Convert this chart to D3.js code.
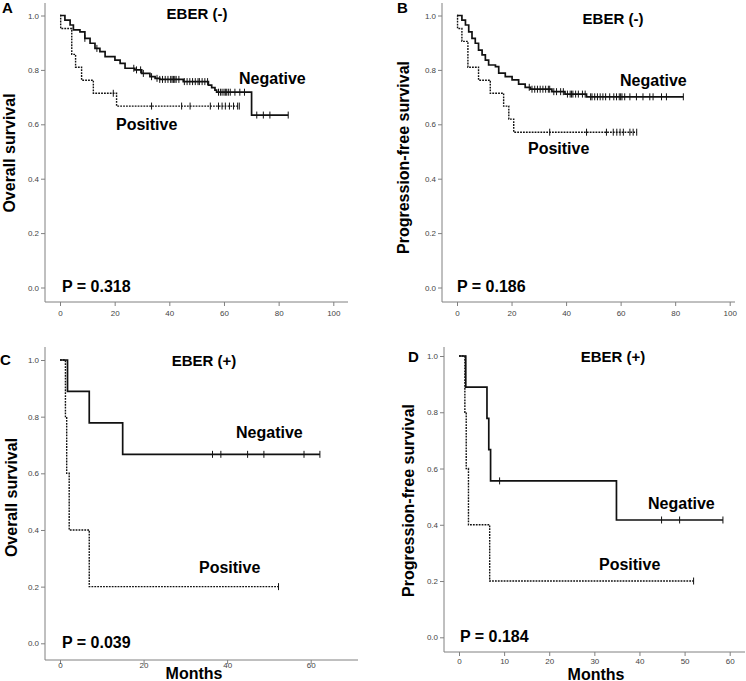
<!DOCTYPE html>
<html>
<head>
<meta charset="utf-8">
<script src="https://cdn.jsdelivr.net/npm/d3@7"></script>
<style>
  body { margin: 0; background: #fff; }
  text { font-family: "Liberation Sans", Arial, sans-serif; }
</style>
</head>
<body>
<script>
// ---- data (months, survival proportion) ----
// A: overall survival, EBER (-)
const osNegTimeA = [1.8, 3.7, 4.9, 7.3, 9.1, 11.0, 12.8, 14.6, 16.5, 20.1, 22.0, 23.8, 27.4, 29.9, 32.9, 34.8, 36.5, 45.1, 54.3, 55.5, 56.7, 57.3, 70.1];
const osNegSurvA = [0.983, 0.965, 0.947, 0.94, 0.916, 0.898, 0.879, 0.867, 0.849, 0.836, 0.824, 0.806, 0.80, 0.787, 0.775, 0.769, 0.765, 0.757, 0.744, 0.735, 0.726, 0.718, 0.634];
const osNegCensA = [9.1, 13.5, 27.0, 28.0, 29.5, 30.5, 33.5, 35.5, 36.5, 37.5, 38.5, 39.5, 40.5, 41.0, 41.5, 42.0, 42.5, 43.5, 45.5, 46.5, 47.5, 48.5, 49.5, 50.5, 51.0, 52.0, 53.0, 54.0, 58.0, 58.7, 59.3, 60.0, 60.5, 61.0, 61.6, 62.3, 64.0, 65.8, 67.5, 72.0, 74.4, 76.8, 83.5];
const osPosTimeA = [0.25, 4.3, 5.7, 7.9, 12.2, 20.7];
const osPosSurvA = [0.952, 0.857, 0.810, 0.762, 0.714, 0.667];
const osPosCensA = [19.5, 33.5, 44.5, 47.6, 55.0, 58.0, 59.3, 60.5, 62.0, 63.5, 65.0, 65.6];

// B: progression-free survival, EBER (-)
const pfsNegTimeB = [1.8, 3.1, 4.3, 5.5, 6.7, 7.9, 9.2, 10.4, 11.6, 14.1, 15.3, 17.7, 20.2, 22.6, 25.0, 26.9, 34.8, 39.6, 47.5];
const pfsNegSurvB = [0.983, 0.965, 0.940, 0.916, 0.898, 0.873, 0.855, 0.836, 0.818, 0.812, 0.788, 0.775, 0.763, 0.748, 0.736, 0.729, 0.720, 0.711, 0.701];
const pfsNegCensB = [26.5, 27.5, 28.5, 29.5, 30.5, 31.5, 32.5, 33.5, 34.0, 35.5, 36.5, 38.0, 39.0, 40.5, 41.5, 42.0, 42.5, 43.5, 44.5, 46.0, 47.0, 49.0, 49.5, 50.5, 51.5, 52.5, 53.5, 54.5, 56.0, 57.5, 58.5, 59.5, 60.0, 60.5, 61.5, 63.4, 65.8, 68.2, 70.7, 71.9, 75.0, 76.8, 83.0];
const pfsPosTimeB = [0.2, 1.8, 4.0, 7.9, 12.2, 17.1, 19.0, 20.8];
const pfsPosSurvB = [0.952, 0.905, 0.810, 0.762, 0.714, 0.667, 0.619, 0.571];
const pfsPosCensB = [34.0, 47.5, 54.8, 57.3, 58.6, 59.8, 61.0, 63.4, 64.6, 65.9];

// C: overall survival, EBER (+)
const osNegTimeC = [1.8, 7.0, 15.0];
const osNegSurvC = [0.889, 0.778, 0.667];
const osNegCensC = [36.5, 38.5, 44.9, 48.8, 58.4, 62.2];
const osPosTimeC = [1.3, 1.6, 2.2, 7.0];
const osPosSurvC = [0.8, 0.6, 0.4, 0.2];
const osPosCensC = [52.3];

// D: progression-free survival, EBER (+)
const pfsNegTimeD = [1.5, 6.2, 6.6, 7.0, 34.9];
const pfsNegSurvD = [0.889, 0.778, 0.667, 0.556, 0.417];
const pfsNegCensD = [9.0, 44.9, 48.9, 58.5];
const pfsPosTimeD = [1.3, 1.6, 2.1, 6.8];
const pfsPosSurvD = [0.8, 0.6, 0.4, 0.2];
const pfsPosCensD = [52.0];

const yTicks = [0, 0.2, 0.4, 0.6, 0.8, 1.0];
const xTicks100 = [0, 20, 40, 60, 80, 100];
const xTicks60by20 = [0, 20, 40, 60];
const xTicks60by10 = [0, 10, 20, 30, 40, 50, 60];

// ---- layout ----
const panels = [
  { letter: "A", title: "EBER (-)", ylab: "Overall survival", p: "P = 0.318",
    neg: [osNegTimeA, osNegSurvA, osNegCensA], pos: [osPosTimeA, osPosSurvA, osPosCensA],
    xTicks: xTicks100, xMax: 100,
    axX: 45, axEnd: 348, axTop: 3, axY: 302, x0: 60, xM: 333.3, y0: 287.5, y1: 15.5, tickDy: 14,
    letterPos: [2, 13], titlePos: [197, 18.5], ylabPos: [15, 153], pPos: [62, 292],
    negPos: [239, 83.5], posPos: [116, 130], months: null },
  { letter: "B", title: "EBER (-)", ylab: "Progression-free survival", p: "P = 0.186",
    neg: [pfsNegTimeB, pfsNegSurvB, pfsNegCensB], pos: [pfsPosTimeB, pfsPosSurvB, pfsPosCensB],
    xTicks: xTicks100, xMax: 100,
    axX: 442, axEnd: 735, axTop: 3, axY: 302, x0: 457, xM: 729.7, y0: 287.5, y1: 15.5, tickDy: 14,
    letterPos: [397, 13], titlePos: [613, 23.5], ylabPos: [408.5, 157.5], pPos: [457, 292],
    negPos: [620, 86], posPos: [528, 154], months: null },
  { letter: "C", title: "EBER (+)", ylab: "Overall survival", p: "P = 0.039",
    neg: [osNegTimeC, osNegSurvC, osNegCensC], pos: [osPosTimeC, osPosSurvC, osPosCensC],
    xTicks: xTicks60by20, xMax: 60,
    axX: 45, axEnd: 358, axTop: 347, axY: 660, x0: 60, xM: 310.7, y0: 643.3, y1: 360, tickDy: 8,
    letterPos: [0, 365], titlePos: [204, 366], ylabPos: [17, 497.5], pPos: [62, 648],
    negPos: [236, 438], posPos: [199, 573], months: [194, 679] },
  { letter: "D", title: "EBER (+)", ylab: "Progression-free survival", p: "P = 0.184",
    neg: [pfsNegTimeD, pfsNegSurvD, pfsNegCensD], pos: [pfsPosTimeD, pfsPosSurvD, pfsPosCensD],
    xTicks: xTicks60by10, xMax: 60,
    axX: 444, axEnd: 745, axTop: 347, axY: 652, x0: 459, xM: 729.7, y0: 637.3, y1: 356, tickDy: 12,
    letterPos: [408, 362], titlePos: [613, 362], ylabPos: [414, 500.5], pPos: [460, 641.5],
    negPos: [648, 508.5], posPos: [599, 570], months: [596, 679.5] }
];

const svg = d3.select("body").append("svg")
  .attr("width", 746)
  .attr("height", 681);

const axisColor = "#808080";
const tickFont = '"Liberation Sans Narrow", "Liberation Sans", Arial, sans-serif';

panels.forEach(drawPanel);

function survAt(times, surv, t) {
  const i = d3.bisectRight(times, t);
  return i === 0 ? 1 : surv[i - 1];
}

function drawPanel(d) {
  const g = svg.append("g");
  const x = d3.scaleLinear().domain([0, d.xMax]).range([d.x0, d.xM]);
  const y = d3.scaleLinear().domain([0, 1]).range([d.y0, d.y1]);

  // axis lines run past the tick range, as in the original
  g.append("line").attr("x1", d.axX).attr("x2", d.axX).attr("y1", d.axTop).attr("y2", d.axY)
    .attr("stroke", axisColor).attr("stroke-width", 1);
  g.append("line").attr("x1", d.axX).attr("x2", d.axEnd).attr("y1", d.axY).attr("y2", d.axY)
    .attr("stroke", axisColor).attr("stroke-width", 1);

  const xa = g.append("g").attr("transform", `translate(0,${d.axY})`)
    .call(d3.axisBottom(x).tickValues(d.xTicks).tickSize(4).tickSizeOuter(0).tickFormat(d3.format("d")));
  const ya = g.append("g").attr("transform", `translate(${d.axX},0)`)
    .call(d3.axisLeft(y).tickValues(yTicks).tickSize(4).tickSizeOuter(0).tickFormat(d3.format(".1f")));
  [xa, ya].forEach(a => {
    a.select(".domain").remove();
    a.selectAll("line").attr("stroke", axisColor);
    a.selectAll("text").attr("fill", "#444")
      .style("font-family", tickFont).style("font-size", "8px");
  });
  xa.selectAll("text").attr("y", d.tickDy).attr("dy", null);
  ya.selectAll("text").attr("x", -6);

  const line = d3.line().curve(d3.curveStepAfter).x(p => x(p[0])).y(p => y(p[1]));

  function drawCurve(series, dashed) {
    const [times, surv, cens] = series;
    const pts = [[0, 1]];
    times.forEach((t, i) => pts.push([t, surv[i]]));
    const end = Math.max(d3.max(times), d3.max(cens));
    pts.push([end, surv[surv.length - 1]]);
    g.append("path").datum(pts)
      .attr("d", line)
      .attr("fill", "none")
      .attr("stroke", "#111")
      .attr("stroke-width", dashed ? 1.4 : 1.7)
      .attr("stroke-dasharray", dashed ? "1.8,1.1" : null);
    g.selectAll(null).data(cens).join("line")
      .attr("x1", t => x(t)).attr("x2", t => x(t))
      .attr("y1", t => y(survAt(times, surv, t)) - 3.5)
      .attr("y2", t => y(survAt(times, surv, t)) + 3.5)
      .attr("stroke", "#111").attr("stroke-width", 1);
  }
  drawCurve(d.pos, true);
  drawCurve(d.neg, false);

  const bold = (sel, size) => sel.attr("font-weight", "bold").attr("font-size", size).attr("fill", "#000");

  bold(g.append("text").attr("x", d.letterPos[0]).attr("y", d.letterPos[1]).text(d.letter), 15);
  bold(g.append("text").attr("x", d.titlePos[0]).attr("y", d.titlePos[1])
    .attr("text-anchor", "middle").text(d.title), 15);
  bold(g.append("text").attr("transform", `translate(${d.ylabPos[0]},${d.ylabPos[1]}) rotate(-90)`)
    .attr("text-anchor", "middle").text(d.ylab), 16);
  bold(g.append("text").attr("x", d.pPos[0]).attr("y", d.pPos[1]).text(d.p), 16);
  bold(g.append("text").attr("x", d.negPos[0]).attr("y", d.negPos[1]).text("Negative"), 16);
  bold(g.append("text").attr("x", d.posPos[0]).attr("y", d.posPos[1]).text("Positive"), 16);
  if (d.months) {
    bold(g.append("text").attr("x", d.months[0]).attr("y", d.months[1])
      .attr("text-anchor", "middle").text("Months"), 16);
  }
}
</script>
</body>
</html>
